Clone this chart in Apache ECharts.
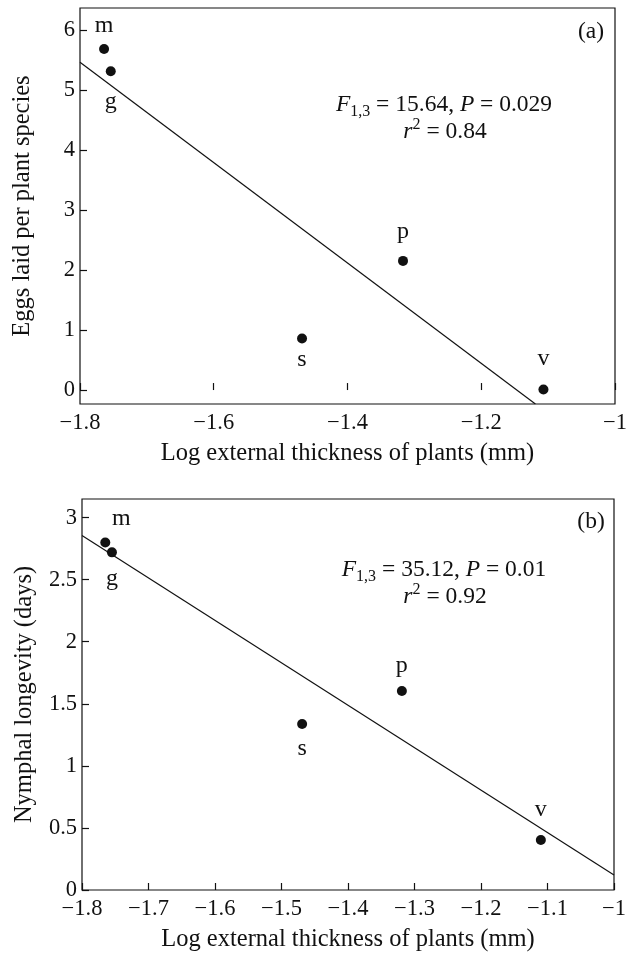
<!DOCTYPE html>
<html>
<head>
<meta charset="utf-8">
<script src="https://cdn.jsdelivr.net/npm/echarts@6/dist/echarts.min.js"></script>
<style>
    html, body { margin: 0; padding: 0; background: #fff; }
    #chart { width: 636px; height: 953px; }
</style>
</head>
<body>
<div id="chart"></div>
<script>
// 植物代号
var plantCodes = ['m', 'g', 's', 'p', 'v'];

// (a) 产卵数
var thicknessA = [-1.764, -1.754, -1.468, -1.317, -1.107];
var eggsA = [5.69, 5.32, 0.86, 2.155, 0.01];
var fitXA = [-1.8, -1.119];
var fitYA = [5.47, -0.233];

// (b) 若虫寿命
var thicknessB = [-1.765, -1.755, -1.469, -1.319, -1.11];
var longevityB = [2.80, 2.72, 1.338, 1.603, 0.403];
var fitXB = [-1.8, -1];
var fitYB = [2.855, 0.121];

// 刻度
var xTicksA = [-1.8, -1.6, -1.4, -1.2, -1];
var xTickLabelsA = ['\u22121.8', '\u22121.6', '\u22121.4', '\u22121.2', '\u22121'];
var yTicksA = [0, 1, 2, 3, 4, 5, 6];
var yTickLabelsA = ['0', '1', '2', '3', '4', '5', '6'];
var xTicksB = [-1.8, -1.7, -1.6, -1.5, -1.4, -1.3, -1.2, -1.1, -1];
var xTickLabelsB = ['\u22121.8', '\u22121.7', '\u22121.6', '\u22121.5', '\u22121.4', '\u22121.3', '\u22121.2', '\u22121.1', '\u22121'];
var yTicksB = [0, 0.5, 1, 1.5, 2, 2.5, 3];
var yTickLabelsB = ['0', '0.5', '1', '1.5', '2', '2.5', '3'];

(function () {
    var FONT = 'Liberation Serif';
    var INK = '#111';

    // 点标签的偏移（相对点中心）
    var labelOffsetA = [[0, -23], [0, 30], [0, 21], [0, -29], [0, -31]];
    var labelOffsetB = [[16, -24], [0, 26], [0, 25], [0, -25], [0, -30]];

    // 根据刻度值找标签文字
    function tickFormatter(ticks, labels) {
        return function (v) {
            for (var i = 0; i < ticks.length; i++) {
                if (Math.abs(ticks[i] - v) < 1e-9) return labels[i];
            }
            return '';
        };
    }

    function makeXAxis(gridIndex, ticks, labels) {
        return {
            type: 'value', gridIndex: gridIndex, min: -1.8, max: -1,
            name: 'Log external thickness of plants (mm)',
            nameLocation: 'middle', nameGap: 37,
            nameTextStyle: { fontFamily: FONT, fontSize: 24.5, color: INK },
            axisLine: { show: false },
            axisTick: { show: true, inside: true, length: 7, customValues: ticks, lineStyle: { color: INK, width: 1.2 } },
            axisLabel: { customValues: ticks, formatter: tickFormatter(ticks, labels), fontFamily: FONT, fontSize: 22.5, color: INK, margin: 8 },
            splitLine: { show: false }
        };
    }

    function makeYAxis(gridIndex, min, max, ticks, labels, name) {
        return {
            type: 'value', gridIndex: gridIndex, min: min, max: max,
            name: name, nameLocation: 'middle', nameGap: 45,
            nameTextStyle: { fontFamily: FONT, fontSize: 24.5, color: INK },
            axisLine: { show: false },
            axisTick: { show: true, inside: true, length: 7, customValues: ticks, lineStyle: { color: INK, width: 1.2 } },
            axisLabel: { customValues: ticks, formatter: tickFormatter(ticks, labels), fontFamily: FONT, fontSize: 22.5, color: INK, margin: 5 },
            splitLine: { show: false }
        };
    }

    function makePoints(xs, ys, offsets) {
        return xs.map(function (x, i) {
            return {
                value: [x, ys[i]],
                label: { offset: offsets[i] }
            };
        });
    }

    function makeScatter(idx, xs, ys, offsets) {
        return {
            type: 'scatter', xAxisIndex: idx, yAxisIndex: idx,
            symbolSize: 10,
            itemStyle: { color: INK, opacity: 1 },
            data: makePoints(xs, ys, offsets),
            label: {
                show: true, position: 'inside',
                fontFamily: FONT, fontSize: 24, color: INK,
                textBorderWidth: 0,
                formatter: function (p) { return plantCodes[p.dataIndex]; }
            },
            emphasis: { disabled: true }
        };
    }

    function makeFit(idx, xs, ys) {
        return {
            type: 'line', xAxisIndex: idx, yAxisIndex: idx,
            data: xs.map(function (x, i) { return [x, ys[i]]; }),
            symbol: 'none', clip: true,
            lineStyle: { color: INK, width: 1.2 }
        };
    }

    // 注释文字（上下标用 rich）
    var richStyle = {
        i: { fontFamily: FONT, fontSize: 23.5, fontStyle: 'italic', lineHeight: 30 },
        n: { fontFamily: FONT, fontSize: 23.5, lineHeight: 30 },
        sub: { fontFamily: FONT, fontSize: 16, lineHeight: 16, verticalAlign: 'bottom' },
        sup: { fontFamily: FONT, fontSize: 16, lineHeight: 16, verticalAlign: 'top' }
    };

    function note(x, y, text) {
        return {
            type: 'text', x: x, y: y,
            style: {
                text: text, rich: richStyle, fill: INK,
                fontFamily: FONT, fontSize: 23.5,
                align: 'center', verticalAlign: 'middle'
            }
        };
    }

    var option = {
        backgroundColor: '#fff',
        animation: false,
        grid: [
            { left: 80, top: 8, width: 535, height: 396, show: true, borderColor: INK, borderWidth: 1.2, backgroundColor: 'transparent' },
            { left: 82, top: 499, width: 532, height: 391, show: true, borderColor: INK, borderWidth: 1.2, backgroundColor: 'transparent' }
        ],
        xAxis: [
            makeXAxis(0, xTicksA, xTickLabelsA),
            makeXAxis(1, xTicksB, xTickLabelsB)
        ],
        yAxis: [
            makeYAxis(0, -0.233, 6.375, yTicksA, yTickLabelsA, 'Eggs laid per plant species'),
            makeYAxis(1, 0, 3.15, yTicksB, yTickLabelsB, 'Nymphal longevity (days)')
        ],
        series: [
            makeFit(0, fitXA, fitYA),
            makeScatter(0, thicknessA, eggsA, labelOffsetA),
            makeFit(1, fitXB, fitYB),
            makeScatter(1, thicknessB, longevityB, labelOffsetB)
        ],
        graphic: [
            note(444, 105, '{i|F}{sub|1,3}{n| = 15.64, }{i|P}{n| = 0.029}'),
            note(445, 132, '{i|r}{sup|2}{n| = 0.84}'),
            note(591, 32, '{n|(a)}'),
            note(444, 570, '{i|F}{sub|1,3}{n| = 35.12, }{i|P}{n| = 0.01}'),
            note(445, 597, '{i|r}{sup|2}{n| = 0.92}'),
            note(591, 522, '{n|(b)}')
        ]
    };

    var myechart = echarts.init(document.getElementById('chart'));
    myechart.setOption(option);
})();
</script>
</body>
</html>
